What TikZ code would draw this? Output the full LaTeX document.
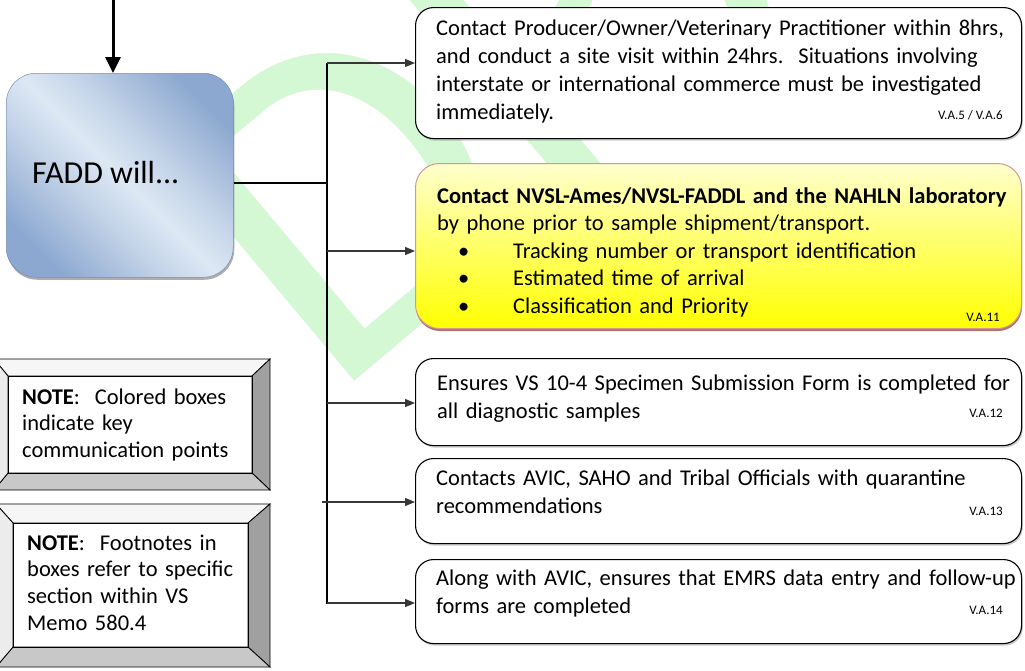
\documentclass[tikz,border=0pt]{standalone}
\usepackage{fontspec}
\setmainfont{Carlito}
\usetikzlibrary{arrows.meta,shadows,calc}
\definecolor{wmgreen}{RGB}{212,247,212}
\definecolor{fdark}{RGB}{140,168,208}
\definecolor{flight}{RGB}{222,232,244}
\definecolor{ytop}{RGB}{255,255,205}
\definecolor{ybot}{RGB}{255,255,0}
\definecolor{yborder}{RGB}{214,150,148}
\definecolor{yshadow}{RGB}{140,58,56}
\definecolor{connc}{RGB}{55,55,55}
\definecolor{bevtop}{RGB}{246,246,246}
\definecolor{bevleft}{RGB}{236,236,236}
\definecolor{bevbot}{RGB}{200,200,200}
\definecolor{bevright}{RGB}{160,160,160}
\pgfdeclarehorizontalshading{faddsh}{100bp}{color(0bp)=(fdark); color(24bp)=(fdark); color(40bp)=(fdark!35!flight); color(50bp)=(flight); color(60bp)=(fdark!35!flight); color(76bp)=(fdark); color(100bp)=(fdark)}
\begin{document}
\begin{tikzpicture}[x=1pt,y=-1pt,
  box/.style={draw=black, line width=1.1pt, rounded corners=18pt, fill=white,
    inner sep=0pt, anchor=north west,
    drop shadow={shadow xshift=1.2pt, shadow yshift=-2pt, opacity=0.35, fill=black!60}},
  ybox/.style={draw=yborder, line width=1pt, rounded corners=24pt,
    top color=ytop, bottom color=ybot, inner sep=0pt, anchor=north west,
    drop shadow={shadow xshift=0.5pt, shadow yshift=-2.5pt, opacity=0.7, fill=yshadow}},
  faddbox/.style={draw=fdark!85!black, line width=0.5pt, rounded corners=30pt,
    shading=faddsh, shading angle=45,
    inner sep=0pt, anchor=north west,
    drop shadow={shadow xshift=1pt, shadow yshift=-2.5pt, opacity=0.45, fill=black!70}},
  txt/.style={inner sep=0pt, anchor=base west, text width=585pt, align=left,
    font=\fontsize{22.5}{28.3}\selectfont},
  ntxt/.style={inner sep=0pt, anchor=base west, text width=240pt, align=left,
    font=\fontsize{22.5}{26.8}\selectfont},
  reftxt/.style={inner sep=0pt, anchor=base east, font=\fontsize{13}{15}\selectfont},
  conn/.style={line width=1.3pt, draw=connc, -{Triangle[length=10pt,width=8pt]}},
  trunk/.style={line width=2pt, draw=black},
  toparrow/.style={line width=3pt, draw=black, -{Triangle[length=16pt,width=15pt]}},
  bevel/.style={draw=black, line width=0.8pt, line join=miter},
  wm/.style={inner sep=0pt, anchor=base west, text=wmgreen,
    font=\fontsize{465}{465}\selectfont}
]
\useasboundingbox (0,0) rectangle (1025,670);
\fill[white] (0,0) rectangle (1025,670);

% watermark
\begin{scope}
\clip (0,0) rectangle (1025,670);
\node[wm, rotate=40] (wm) at (330,402) {DRAFT};
\end{scope}

% FADD box
\node[faddbox, minimum width=227pt, minimum height=204pt] (fadd) at (6,73) {};
\node[inner sep=0pt, anchor=base west, font=\fontsize{32}{36}\selectfont] (ftxt) at (32,183) {FADD will...};

% boxes
\node[box, minimum width=606pt, minimum height=131pt] (b1) at (415,7) {};
\node[ybox, minimum width=606pt, minimum height=165pt] (b2) at (415,163) {};
\node[box, minimum width=606pt, minimum height=87pt] (b3) at (415,358) {};
\node[box, minimum width=606pt, minimum height=85pt] (b4) at (415,458) {};
\node[box, minimum width=606pt, minimum height=84pt] (b5) at (415,559) {};

\node[txt] (t1) at (436,35) {Contact Producer/Owner/Veterinary Practitioner within 8hrs,\\
and conduct a site visit within 24hrs.\ \ Situations involving\\
interstate or international commerce must be investigated\\
immediately.};
\node[reftxt] (r1) at (1003,119) {V.A.5 / V.A.6};

\node[txt, font=\fontsize{22.5}{27.6}\selectfont] (t2) at (437,203) {\textbf{Contact NVSL-Ames/NVSL-FADDL and the NAHLN laboratory}\\
by phone prior to sample shipment/transport.\\
\hspace*{21pt}\makebox[55pt][l]{\textbullet}Tracking number or transport identification\\
\hspace*{21pt}\makebox[55pt][l]{\textbullet}Estimated time of arrival\\
\hspace*{21pt}\makebox[55pt][l]{\textbullet}Classification and Priority};
\node[reftxt] (r2) at (1000,321) {V.A.11};

\node[txt] (t3) at (437,390) {Ensures VS 10-4 Specimen Submission Form is completed for\\
all diagnostic samples};
\node[reftxt] (r3) at (1003,417) {V.A.12};

\node[txt] (t4) at (436,485) {Contacts AVIC, SAHO and Tribal Officials with quarantine\\
recommendations};
\node[reftxt] (r4) at (1003,515) {V.A.13};

\node[txt] (t5) at (436,585) {Along with AVIC, ensures that EMRS data entry and follow-up\\
forms are completed};
\node[reftxt] (r5) at (1003,614) {V.A.14};

% connectors
\coordinate (top) at (113,0);
\draw[toparrow] (top) -- (top |- fadd.north);
\coordinate (j1) at (327,63);
\coordinate (jm) at (327,183);
\coordinate (j2) at (327,251);
\coordinate (j3) at (327,403);
\coordinate (j4) at (327,502);
\coordinate (j5) at (327,603);
\draw[trunk] (j1) -- ($(j5)+(0,1)$);
\draw[trunk] (jm -| fadd.east) -- (jm);
\draw[conn] (j1) -- (j1 -| b1.west);
\draw[conn] (j2) -- (j2 -| b2.west);
\draw[conn] (j3) -- (j3 -| b3.west);
\draw[conn] ($(j4)+(-5,0)$) -- (j4 -| b4.west);
\draw[conn] (j5) -- (j5 -| b5.west);

% note 1 (bevel)
\fill[white] (8,376) rectangle (252,473);
\filldraw[bevel, fill=bevtop] (-6,359) -- (270,359) -- (252,376) -- (8,376) -- cycle;
\filldraw[bevel, fill=bevright] (270,359) -- (270,490) -- (252,473) -- (252,376) -- cycle;
\filldraw[bevel, fill=bevbot] (270,490) -- (-6,490) -- (8,473) -- (252,473) -- cycle;
\filldraw[bevel, fill=bevleft] (-6,490) -- (-6,359) -- (8,376) -- (8,473) -- cycle;
\node[draw=black, line width=0.6pt, inner sep=0pt, anchor=north west, minimum width=244pt, minimum height=97pt] (n1) at (8,376) {};
\node[ntxt] (nt1) at (22,404) {\textbf{NOTE}:\ \ Colored boxes\\
indicate key\\
communication points};

% note 2 (bevel)
\fill[white] (13,523) rectangle (248,647);
\filldraw[bevel, fill=bevtop] (-4,504) -- (270,504) -- (248,523) -- (13,523) -- cycle;
\filldraw[bevel, fill=bevright] (270,504) -- (270,667) -- (248,647) -- (248,523) -- cycle;
\filldraw[bevel, fill=bevbot] (270,667) -- (-4,667) -- (13,647) -- (248,647) -- cycle;
\filldraw[bevel, fill=bevleft] (-4,667) -- (-4,504) -- (13,523) -- (13,647) -- cycle;
\node[draw=black, line width=0.6pt, inner sep=0pt, anchor=north west, minimum width=235pt, minimum height=124pt] (n2) at (13,523) {};
\node[ntxt] (nt2) at (27,550) {\textbf{NOTE}:\ \ Footnotes in\\
boxes refer to specific\\
section within VS\\
Memo 580.4};
\end{tikzpicture}
\end{document}
